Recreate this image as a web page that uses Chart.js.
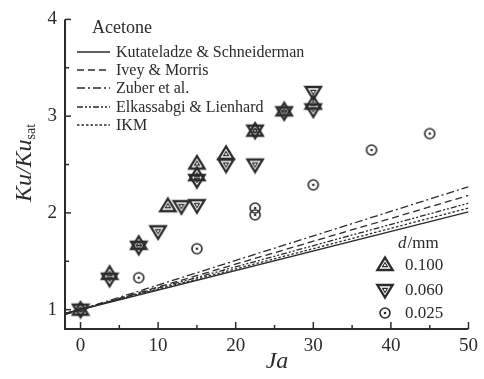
<!DOCTYPE html>
<html>
<head>
<meta charset="utf-8">
<script src="https://cdn.jsdelivr.net/npm/chart.js@4.4.1/dist/chart.umd.min.js"></script>
<style>
  html, body { margin: 0; padding: 0; background: #fff; }
  #wrap { width: 484px; height: 379px; }
</style>
</head>
<body>
<div id="wrap"><canvas id="myChart" width="484" height="379"></canvas></div>
<script>
// Ku/Ku_sat vs Ja, acetone, three wire diameters + five correlations

// correlations: straight lines from Ja = -2 to Ja = 50
const lineJa = [-2, 50];
const kutateladze = [0.96, 2.01];
const iveyMorris = [0.95, 2.18];
const zuber = [0.95, 2.27];
const elkassabgi = [0.96, 2.10];
const ikm = [0.96, 2.05];

// d = 0.100 mm
const ja100 = [0, 3.75, 7.5, 11.25, 15, 15, 18.75, 22.5, 26.25, 30];
const ku100 = [1.00, 1.37, 1.68, 2.07, 2.51, 2.39, 2.61, 2.85, 3.06, 3.13];
// d = 0.060 mm
const ja060 = [0, 3.75, 7.5, 10, 13, 15, 15, 18.75, 22.5, 22.5, 26.25, 30, 30];
const ku060 = [1.00, 1.32, 1.65, 1.81, 2.07, 2.08, 2.34, 2.50, 2.85, 2.50, 3.04, 3.25, 3.07];
// d = 0.025 mm
const ja025 = [7.5, 15, 22.5, 22.5, 30, 37.5, 45];
const ku025 = [1.33, 1.63, 2.05, 1.98, 2.29, 2.65, 2.82];

const xTicksMajor = [0, 10, 20, 30, 40, 50];
const yTicksMajor = [1, 2, 3, 4];

const ink = '#2b2b2b';
const serif = '"Liberation Serif", "DejaVu Serif", serif';

function makeMarker(kind) {
    const c = document.createElement('canvas');
    c.width = 20; c.height = 20;
    const g = c.getContext('2d');
    g.strokeStyle = ink;
    g.fillStyle = ink;
    g.lineJoin = 'miter';
    if (kind === 'circle') {
        g.lineWidth = 1.6;
        g.beginPath(); g.arc(10, 10, 5, 0, Math.PI * 2); g.stroke();
        g.beginPath(); g.arc(10, 10, 1.3, 0, Math.PI * 2); g.fill();
        return c;
    }
    const s = kind === 'up' ? 1 : -1;
    const tri = (k, w) => {
        g.lineWidth = w;
        g.beginPath();
        g.moveTo(10, 10 - s * 7.5 * k);
        g.lineTo(10 - 7.6 * k, 10 + s * 5 * k);
        g.lineTo(10 + 7.6 * k, 10 + s * 5 * k);
        g.closePath();
        g.stroke();
    };
    tri(1, 2.4);
    tri(0.33, 1.1);
    return c;
}

const mUp = makeMarker('up');
const mDown = makeMarker('down');
const mCirc = makeMarker('circle');

function pts(xs, ys) {
    return xs.map((x, i) => ({ x: x, y: ys[i] }));
}

function lineSet(label, ys, dash) {
    return {
        label: label,
        data: pts(lineJa, ys),
        showLine: true,
        borderColor: ink,
        borderWidth: 1.3,
        borderDash: dash,
        pointRadius: 0,
        fill: false
    };
}

const lineSets = [
    lineSet('Kutateladze & Schneiderman', kutateladze, []),
    lineSet('Ivey & Morris', iveyMorris, [7, 4]),
    lineSet('Zuber et al.', zuber, [8, 3, 2, 3]),
    lineSet('Elkassabgi & Lienhard', elkassabgi, [6, 2, 2, 2, 2, 2]),
    lineSet('IKM', ikm, [2.5, 2])
];

function markSet(label, xs, ys, img) {
    return {
        label: label,
        data: pts(xs, ys),
        showLine: false,
        pointStyle: img,
        pointRadius: 8,
        borderColor: ink
    };
}

// axes, inward ticks, legends and axis titles
const decor = {
    id: 'decor',
    afterDraw(chart) {
        const ctx = chart.ctx;
        const a = chart.chartArea;
        const xs = chart.scales.x, ys = chart.scales.y;
        ctx.save();
        ctx.strokeStyle = ink;
        ctx.lineWidth = 2;
        ctx.beginPath();
        ctx.moveTo(a.left, a.top);
        ctx.lineTo(a.left, a.bottom);
        ctx.lineTo(a.right, a.bottom);
        ctx.stroke();
        ctx.lineWidth = 1.5;
        for (let v = 0; v <= 50; v += 5) {
            const p = xs.getPixelForValue(v);
            const len = v % 10 === 0 ? 7 : 4;
            ctx.beginPath(); ctx.moveTo(p, a.bottom); ctx.lineTo(p, a.bottom - len); ctx.stroke();
        }
        for (let v = 1; v <= 4; v += 0.5) {
            const p = ys.getPixelForValue(v);
            const len = Number.isInteger(v) ? 6 : 4;
            ctx.beginPath(); ctx.moveTo(a.left, p); ctx.lineTo(a.left + len, p); ctx.stroke();
        }

        ctx.fillStyle = ink;
        ctx.textBaseline = 'alphabetic';
        ctx.textAlign = 'left';
        ctx.font = '18px ' + serif;
        ctx.fillText('Acetone', 92, 33);

        ctx.font = '16px ' + serif;
        ctx.textBaseline = 'middle';
        const rows = [52, 70, 88, 107, 125];
        lineSets.forEach((ds, i) => {
            ctx.setLineDash(ds.borderDash);
            ctx.lineWidth = 1.3;
            ctx.beginPath(); ctx.moveTo(77, rows[i]); ctx.lineTo(110, rows[i]); ctx.stroke();
            ctx.setLineDash([]);
            ctx.fillText(ds.label, 116, rows[i] + 1);
        });

        ctx.font = 'italic 17px ' + serif;
        ctx.fillText('d', 398, 244);
        let w = ctx.measureText('d').width;
        ctx.font = '17px ' + serif;
        ctx.fillText('/mm', 398 + w + 1, 244);
        const mk = [[mUp, '0.100', 265], [mDown, '0.060', 290], [mCirc, '0.025', 313]];
        mk.forEach(m => {
            ctx.drawImage(m[0], 385 - 10, m[2] - 10);
            ctx.fillText(m[1], 405, m[2] + 1);
        });

        // x title
        ctx.textAlign = 'center';
        ctx.textBaseline = 'alphabetic';
        ctx.font = 'italic 24px ' + serif;
        ctx.fillText('Ja', 277, 368);

        // y title
        ctx.translate(31, 163);
        ctx.rotate(-Math.PI / 2);
        ctx.textAlign = 'left';
        ctx.font = 'italic 24px ' + serif;
        const main = 'Ku/Ku';
        const mw = ctx.measureText(main).width;
        ctx.font = '14px ' + serif;
        const sw = ctx.measureText('sat').width;
        const x0 = -(mw + sw) / 2;
        ctx.font = 'italic 24px ' + serif;
        ctx.fillText(main, x0, 0);
        ctx.font = '14px ' + serif;
        ctx.fillText('sat', x0 + mw, 4);
        ctx.restore();
    }
};

const ctx = document.getElementById('myChart').getContext('2d');
const myChart = new Chart(ctx, {
    type: 'scatter',
    data: {
        datasets: lineSets.concat([
            markSet('0.100', ja100, ku100, mUp),
            markSet('0.060', ja060, ku060, mDown),
            markSet('0.025', ja025, ku025, mCirc)
        ])
    },
    options: {
        responsive: false,
        animation: false,
        layout: { padding: { left: 0, right: 11, top: 15, bottom: 0 } },
        plugins: {
            legend: { display: false },
            tooltip: { enabled: false }
        },
        scales: {
            x: {
                type: 'linear',
                min: -2,
                max: 50,
                afterFit(s) { s.height = 50; },
                afterBuildTicks(s) { s.ticks = xTicksMajor.map(v => ({ value: v })); },
                grid: { display: false, drawTicks: false },
                border: { display: false },
                ticks: {
                    color: ink,
                    padding: 6,
                    maxRotation: 0,
                    font: { family: serif, size: 19 }
                }
            },
            y: {
                type: 'linear',
                min: 0.8,
                max: 4,
                afterFit(s) { s.width = 65; },
                afterBuildTicks(s) { s.ticks = yTicksMajor.map(v => ({ value: v })); },
                grid: { display: false, drawTicks: false },
                border: { display: false },
                ticks: {
                    color: ink,
                    padding: 8,
                    font: { family: serif, size: 19 }
                }
            }
        }
    },
    plugins: [decor]
});
</script>
</body>
</html>
